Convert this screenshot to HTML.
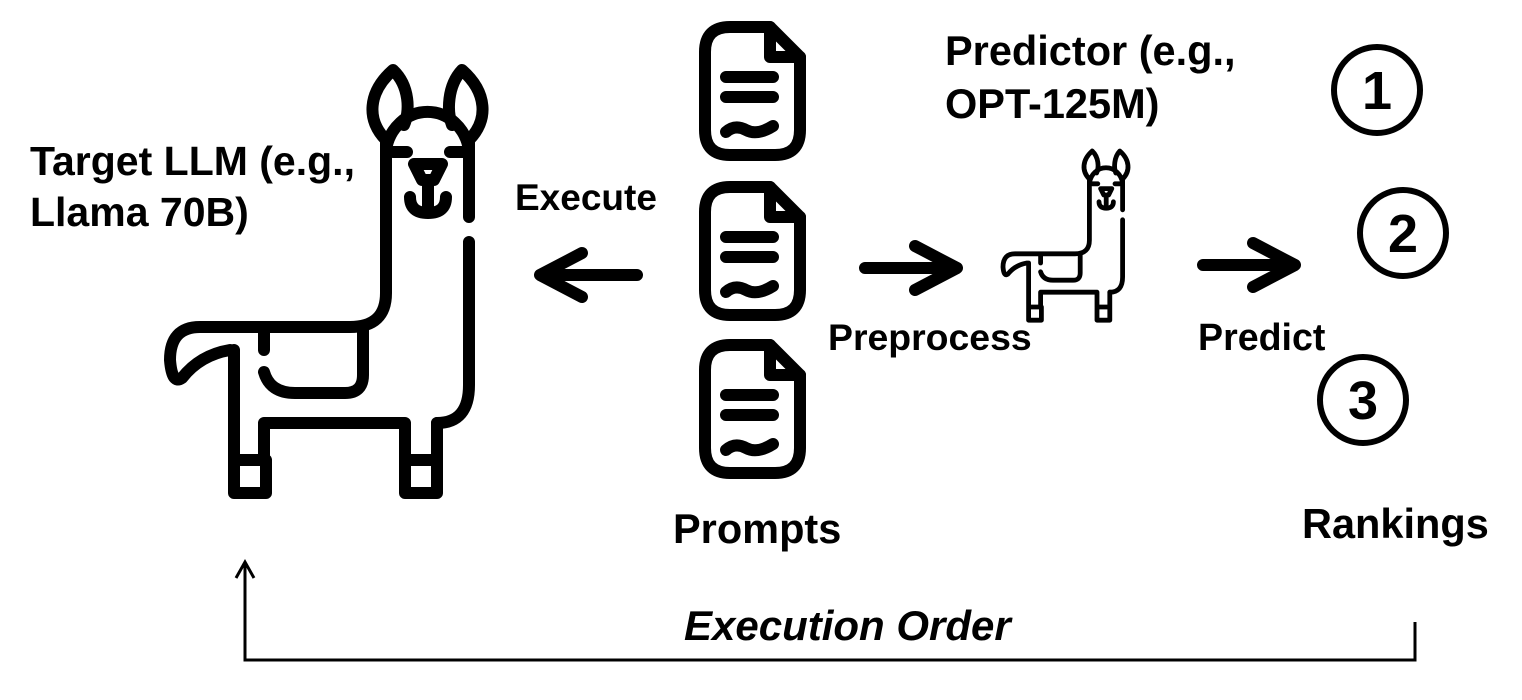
<!DOCTYPE html>
<html><head><meta charset="utf-8"><style>
html,body{margin:0;padding:0;background:#fff;}
svg{display:block;}
text{font-family:"Liberation Sans",Arial,sans-serif;font-weight:bold;fill:#000;}
</style></head><body>
<svg width="1522" height="700" viewBox="0 0 1522 700" xmlns="http://www.w3.org/2000/svg">
<defs>
<g id="llama" fill="none" stroke="#000" stroke-width="12" stroke-linecap="round" stroke-linejoin="round">
  <path d="M386 140 C366 120 368 92 393 70 C410 86 410 112 404 125"/>
  <path d="M469 140 C489 120 487 92 462 70 C447 86 447 112 452 125"/>
  <path d="M386 150 A42 45 0 0 1 469 150"/>
  <path d="M386 140 L386 293 Q386 327 350 327 L200 327 Q170 327 170 360 Q172 385 182 378 Q200 355 230 350"/>
  <path d="M393 152 L407 152 M450 152 L463 152"/>
  <path d="M469 140 L469 217 M469 242 L469 385 Q469 423 437 423"/>
  <path d="M414 164 L442 164 L434 180 L422 180 Z"/>
  <path d="M410 197 Q410 213 428 213 Q446 213 446 197 M428 182 L428 210"/>
  <path d="M234 350 L234 493 L266 493 L266 460 M234 460 L266 460"/>
  <path d="M264 460 L264 423 L405 423 L405 493 L437 493 L437 423 M405 460 L437 460"/>
  <path d="M264 330 L264 350"/>
  <path d="M264 372 Q270 393 295 393 L345 393 Q363 393 363 375 L363 330"/>
</g>
<g id="doc" fill="none" stroke="#000" stroke-width="12" stroke-linecap="round" stroke-linejoin="round">
  <path d="M770 27 L730 27 Q705 27 705 52 L705 130 Q705 155 730 155 L775 155 Q800 155 800 130 L800 57 Z"/>
  <path d="M770 27 L770 57 L800 57"/>
  <path d="M726 77 L773 77 M726 97 L773 97"/>
  <path d="M726 132 Q735 124 746 130 Q757 136 773 126"/>
</g>
</defs>
<use href="#llama"/>
<use href="#llama" transform="translate(935,123) scale(0.4)"/>
<use href="#doc"/>
<use href="#doc" transform="translate(0,160)"/>
<use href="#doc" transform="translate(0,318)"/>
<g fill="none" stroke="#000" stroke-width="12" stroke-linecap="round" stroke-linejoin="round">
  <path d="M637 275 L545 275 M582 253 L540 275 L582 297"/>
  <path d="M865 268 L955 268 M915 246 L957 268 L915 290"/>
  <path d="M1203 265 L1293 265 M1253 243 L1295 265 L1253 287"/>
</g>
<g fill="none" stroke="#000" stroke-width="6">
  <circle cx="1377" cy="90" r="43"/>
  <circle cx="1403" cy="233" r="43"/>
  <circle cx="1363" cy="400" r="43"/>
</g>
<text x="1377" y="109" font-size="54" text-anchor="middle">1</text>
<text x="1403" y="252" font-size="54" text-anchor="middle">2</text>
<text x="1363" y="419" font-size="54" text-anchor="middle">3</text>
<g fill="none" stroke="#000" stroke-width="3">
  <path d="M1415 622 L1415 660 L245 660 L245 562"/>
  <path d="M236 578 L245 562 L254 578"/>
</g>
<text x="30" y="175" font-size="41">Target LLM (e.g.,</text>
<text x="30" y="226" font-size="41">Llama 70B)</text>
<text x="515" y="210" font-size="37">Execute</text>
<text x="945" y="65" font-size="41.5">Predictor (e.g.,</text>
<text x="945" y="118" font-size="41.5">OPT-125M)</text>
<text x="828" y="350" font-size="37.4">Preprocess</text>
<text x="1198" y="350" font-size="37.6">Predict</text>
<text x="673" y="543" font-size="41.5">Prompts</text>
<text x="1302" y="538" font-size="41.5">Rankings</text>
<text x="684" y="640" font-size="42" font-style="italic">Execution Order</text>
</svg>
</body></html>
